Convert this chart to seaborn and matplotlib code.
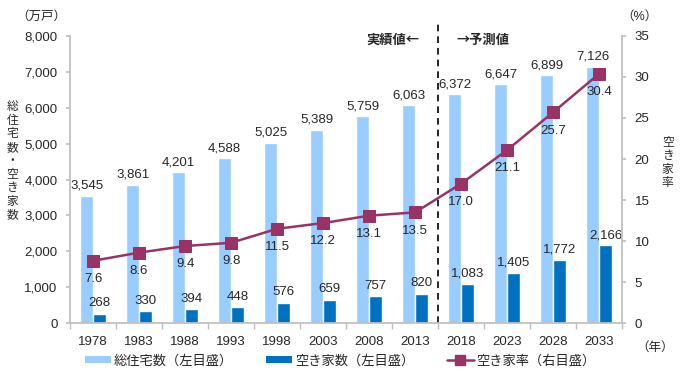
import matplotlib
matplotlib.use('Agg')
import matplotlib.pyplot as plt
import matplotlib.ticker as mticker
from matplotlib.lines import Line2D
from matplotlib.patches import Patch
import pandas as pd
import seaborn as sns

# データ
years = ['1978', '1983', '1988', '1993', '1998', '2003', '2008', '2013',
         '2018', '2023', '2028', '2033']
total_houses = [3545, 3861, 4201, 4588, 5025, 5389, 5759, 6063, 6372, 6647, 6899, 7126]
vacant_houses = [268, 330, 394, 448, 576, 659, 757, 820, 1083, 1405, 1772, 2166]
vacancy_rate = [7.6, 8.6, 9.4, 9.8, 11.5, 12.2, 13.1, 13.5, 17.0, 21.1, 25.7, 30.4]

series_names = ['総住宅数（左目盛）', '空き家数（左目盛）', '空き家率（右目盛）']
c_total = '#99CCFF'
c_vacant = '#0070C0'
c_rate = '#993366'
c_axis = '#BFBFBF'

sns.set_theme(style='white')
plt.rcParams['font.family'] = ['Liberation Sans', 'Noto Sans CJK JP']

df = pd.DataFrame({
    '年': years * 2,
    '戸数': total_houses + vacant_houses,
    '系列': [series_names[0]] * len(years) + [series_names[1]] * len(years),
})

fig = plt.figure(figsize=(6.8, 3.78), dpi=100)
ax = fig.add_axes([0.103, 0.145, 0.812, 0.76])

sns.barplot(data=df, x='年', y='戸数', hue='系列', order=years,
            palette=[c_total, c_vacant], width=0.56, gap=0,
            saturation=1, legend=False, ax=ax)

ax.set_ylim(0, 8000)
ax.set_xlim(-0.5, 11.5)
ax.yaxis.set_major_locator(mticker.MultipleLocator(1000))
ax.yaxis.set_major_formatter(mticker.StrMethodFormatter('{x:,.0f}'))
ax.set_xlabel('')
ax.set_ylabel('')

for side in ['top', 'right']:
    ax.spines[side].set_visible(False)
for side in ['left', 'bottom']:
    ax.spines[side].set_color(c_axis)
ax.tick_params(axis='y', which='major', length=3, color=c_axis, labelsize=9.5, pad=6, left=True)
ax.tick_params(axis='x', which='major', length=0, labelsize=9.5, pad=9)
ax.set_xticks([i - 0.5 for i in range(len(years) + 1)], minor=True)
ax.tick_params(axis='x', which='minor', length=4, color=c_axis, bottom=True)

# 棒のラベル
for i in range(len(years)):
    ax.text(i - 0.14, total_houses[i] + 120, f'{total_houses[i]:,}',
            ha='center', va='bottom', fontsize=9.5)
    ax.text(i + 0.14, vacant_houses[i] + 120, f'{vacant_houses[i]:,}',
            ha='center', va='bottom', fontsize=9.5)

# 右軸：空き家率
ax2 = ax.twinx()
sns.lineplot(x=list(range(len(years))), y=vacancy_rate, color=c_rate,
             marker='s', markersize=8, markeredgecolor=c_rate, linewidth=1.8, ax=ax2)
ax2.set_ylim(0, 35)
ax2.yaxis.set_major_locator(mticker.MultipleLocator(5))
for side in ['top', 'left', 'bottom']:
    ax2.spines[side].set_visible(False)
ax2.spines['right'].set_color(c_axis)
ax2.tick_params(axis='y', length=3, color=c_axis, labelsize=9.5, pad=6, right=True)

for i, r in enumerate(vacancy_rate):
    ax2.text(i, r - 1.5, f'{r:.1f}', ha='center', va='top', fontsize=9.5)

# 実績値と予測値の境界
ax.axvline(7.5, ymin=0, ymax=1.05, color='black', linestyle=(0, (4, 3)),
           linewidth=1.2, clip_on=False)
ax.text(7.1, 7900, '実績値←', ha='right', va='center', fontsize=9.5,
        fontweight='bold', family=['Noto Sans CJK JP'])
ax.text(7.9, 7900, '→予測値', ha='left', va='center', fontsize=9.5,
        fontweight='bold', family=['Noto Sans CJK JP'])

# 軸タイトル
fig.text(0.06, 0.955, '（万戸）', ha='center', va='center', fontsize=9)
fig.text(0.94, 0.955, '（%）', ha='center', va='center', fontsize=9)
fig.text(0.018, 0.575, '\n'.join('総住宅数・空き家数'), ha='center', va='center',
         fontsize=8.5, linespacing=1.05, family=['Noto Sans CJK JP'])
fig.text(0.982, 0.57, '\n'.join('空き家率'), ha='center', va='center',
         fontsize=8.5, linespacing=1.05, family=['Noto Sans CJK JP'])
fig.text(0.963, 0.08, '（年）', ha='center', va='center', fontsize=9)

handles = [
    Patch(facecolor=c_total, edgecolor='none'),
    Patch(facecolor=c_vacant, edgecolor='none'),
    Line2D([0], [0], color=c_rate, marker='s', markersize=7, linewidth=1.8),
]
fig.legend(handles, series_names, loc='center', bbox_to_anchor=(0.5, 0.045),
           ncol=3, frameon=False, fontsize=9.5, handlelength=2.0,
           handleheight=0.5, handletextpad=0.2, columnspacing=2.5)

fig.savefig('out.png', dpi=100)
